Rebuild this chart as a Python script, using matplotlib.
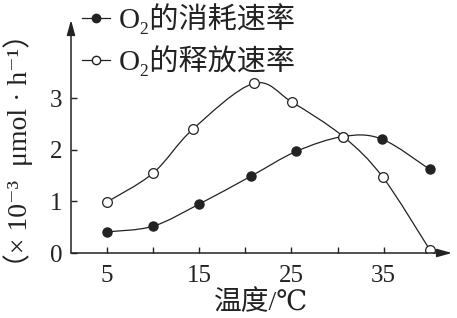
import numpy as np
import matplotlib.pyplot as plt
from matplotlib.path import Path
from matplotlib.patches import PathPatch
from matplotlib.lines import Line2D

plt.rcParams['font.family'] = ['Liberation Serif', 'DejaVu Serif', 'Noto Sans CJK SC']

# O2 consumption rate (filled dots) and release rate (open dots), x10^-3 umol/h
consume_t = [5, 10, 15, 20.6, 25.5, 30.6, 34.8, 40]
consume_v = [0.41, 0.52, 0.95, 1.49, 1.97, 2.26, 2.21, 1.62]
release_t = [5, 10, 14.3, 20.9, 25.1, 30.6, 34.9, 40]
release_v = [0.99, 1.55, 2.40, 3.29, 2.92, 2.26, 1.47, 0.06]

x_ticks = [5, 10, 15, 20, 25, 30, 35, 40]
x_labels = ['5', '', '15', '', '25', '', '35', '']
y_ticks = [0, 1, 2, 3]
legend_labels = ['O₂的消耗速率', 'O₂的释放速率']


def smooth_path(xs, ys):
    # catmull-rom through the points, drawn as cubic bezier segments
    p = np.column_stack([xs, ys])
    p = np.vstack([p[0], p, p[-1]])
    verts = [p[1]]
    codes = [Path.MOVETO]
    for i in range(1, len(p) - 2):
        c1 = p[i] + (p[i + 1] - p[i - 1]) / 6
        c2 = p[i + 1] - (p[i + 2] - p[i]) / 6
        verts += [c1, c2, p[i + 1]]
        codes += [Path.CURVE4] * 3
    return Path(verts, codes)


fig = plt.figure(figsize=(4.57, 3.18), dpi=100)
ax = fig.add_axes([71 / 457, 65 / 318, 381 / 457, 233 / 318])
ax.set_xlim(1.1, 42.4)
ax.set_ylim(0, 4.52)

for xs, ys in [(consume_t, consume_v), (release_t, release_v)]:
    ax.add_patch(PathPatch(smooth_path(xs, ys), fill=False, lw=0.9, color='#222222'))

ax.plot(consume_t, consume_v, 'o', ms=6.6, mfc='#222222', mec='#222222', mew=0.9, ls='none')
ax.plot(release_t, release_v, 'o', ms=7, mfc='white', mec='#222222', mew=0.9, ls='none')

for s in ax.spines.values():
    s.set_visible(False)
ax.annotate('', xy=(1, 0), xytext=(0, 0), xycoords='axes fraction',
            arrowprops=dict(arrowstyle='-|>,head_length=0.9,head_width=0.25', lw=1.1, color='#222222',
                            shrinkA=0, shrinkB=0))
ax.annotate('', xy=(0, 1), xytext=(0, 0), xycoords='axes fraction',
            arrowprops=dict(arrowstyle='-|>,head_length=0.9,head_width=0.25', lw=1.1, color='#222222',
                            shrinkA=0, shrinkB=0))

ax.set_xticks(x_ticks)
ax.set_xticklabels(x_labels)
ax.set_yticks(y_ticks)
ax.tick_params(direction='in', length=4, width=1, color='#222222', labelsize=18, labelcolor='#222222')
ax.tick_params(axis='x', pad=9)
ax.tick_params(axis='y', pad=6)

ax.set_xlabel('温度/℃', fontsize=20, color='#222222', labelpad=2)
ax.set_ylabel('（× 10⁻³  μmol · h⁻¹）', fontsize=20, color='#222222')
ax.yaxis.set_label_coords(-0.1, 0.44)

handles = [
    Line2D([], [], color='#222222', lw=0.9, marker='o', ms=6, mfc='#222222', mec='#222222'),
    Line2D([], [], color='#222222', lw=0.9, marker='o', ms=6, mfc='white', mec='#222222'),
]
fig.legend(handles, legend_labels, loc='upper left',
           bbox_to_anchor=(82 / 457, 1.0 - 3 / 318), frameon=False, fontsize=21, handlelength=0.95,
           handletextpad=0.3, labelspacing=0.38, borderpad=0, borderaxespad=0, labelcolor='#222222')

fig.savefig('out.png', dpi=100)
